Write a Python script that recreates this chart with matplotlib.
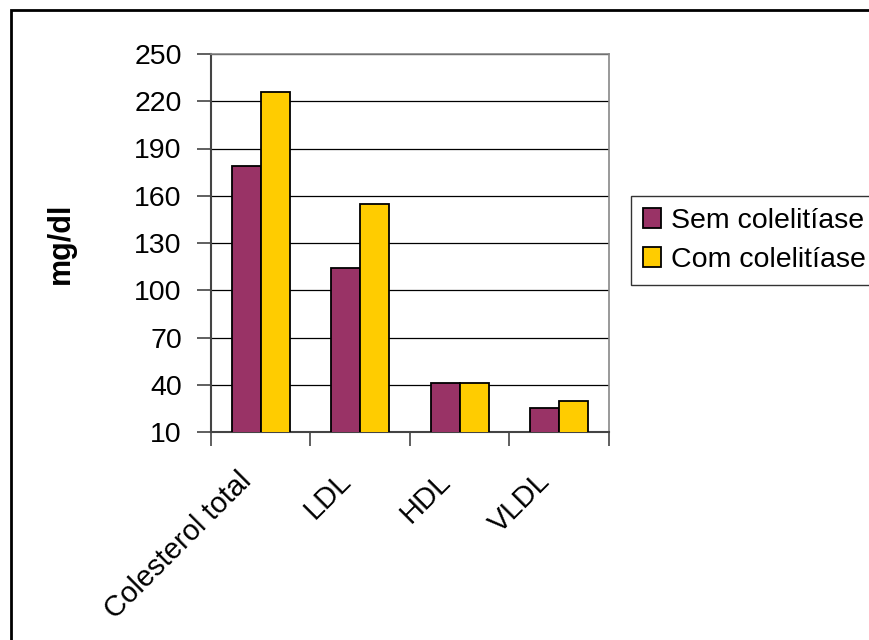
import matplotlib.pyplot as plt
from matplotlib.patches import Rectangle
from matplotlib.transforms import ScaledTranslation
import numpy as np

categories = ['Colesterol total', 'LDL', 'HDL', 'VLDL']
sem_colelitiase = [179, 114, 41, 25]
com_colelitiase = [226, 155, 41, 30]
series_names = ['Sem colelitíase', 'Com colelitíase']
y_ticks = [10, 40, 70, 100, 130, 160, 190, 220, 250]

plt.rcParams['font.family'] = ['Liberation Sans', 'DejaVu Sans']
FS = 20.5

fig = plt.figure(figsize=(8.7, 6.4), dpi=100)
ax = fig.add_axes([211 / 870, 1 - 432 / 640, 398 / 870, 378 / 640])

# outer chart frame, cut off on the right and bottom like the original
fig.patches.append(Rectangle((11 / 870, -0.1), 1.1, 1 - 10 / 640 + 0.1,
                             transform=fig.transFigure, fill=False,
                             edgecolor='black', linewidth=2))

x = np.arange(len(categories))
w = 0.29
ax.bar(x - w / 2, sem_colelitiase, w, color='#993366',
       edgecolor='black', linewidth=1.3, label=series_names[0], zorder=3)
ax.bar(x + w / 2, com_colelitiase, w, color='#FFCC00',
       edgecolor='black', linewidth=1.3, label=series_names[1], zorder=3)

ax.set_ylim(10, 250)
ax.set_xlim(-0.5, len(categories) - 0.5)
ax.set_yticks(y_ticks)
ax.set_yticklabels([str(v) for v in y_ticks], fontsize=FS)
ax.yaxis.grid(True, color='black', linewidth=0.9, zorder=0)

# ticks between categories, labels rotated under each group
ax.set_xticks(np.arange(len(categories) + 1) - 0.5)
ax.set_xticklabels([])
shift = ScaledTranslation(-0.24, -0.35, fig.dpi_scale_trans)
for xi, cat in zip(x, categories):
    ax.text(xi, 0, cat, transform=ax.get_xaxis_transform() + shift,
            rotation=45, ha='right', va='top', rotation_mode='anchor',
            fontsize=21, clip_on=False)
ax.tick_params(axis='x', which='major', length=10, width=1.2, color='#444444')
ax.tick_params(axis='y', length=10, width=1.2, color='#444444', pad=11)

for side in ['left', 'bottom']:
    ax.spines[side].set_color('#444444')
    ax.spines[side].set_linewidth(1.5)
for side in ['top', 'right']:
    ax.spines[side].set_color('#888888')
    ax.spines[side].set_linewidth(1.2)

ax.set_ylabel('mg/dl', fontsize=22, fontweight='bold', labelpad=42)

leg = ax.legend(loc='upper left', bbox_to_anchor=(631 / 870, 1 - 196 / 640),
                bbox_transform=fig.transFigure, fontsize=20.5, frameon=True,
                fancybox=False, handlelength=0.64, handleheight=0.7,
                handletextpad=0.33, borderpad=0.42, labelspacing=0.45,
                borderaxespad=0)
leg.get_frame().set_edgecolor('black')
leg.get_frame().set_linewidth(1.0)

fig.savefig('out.png', dpi=100)
